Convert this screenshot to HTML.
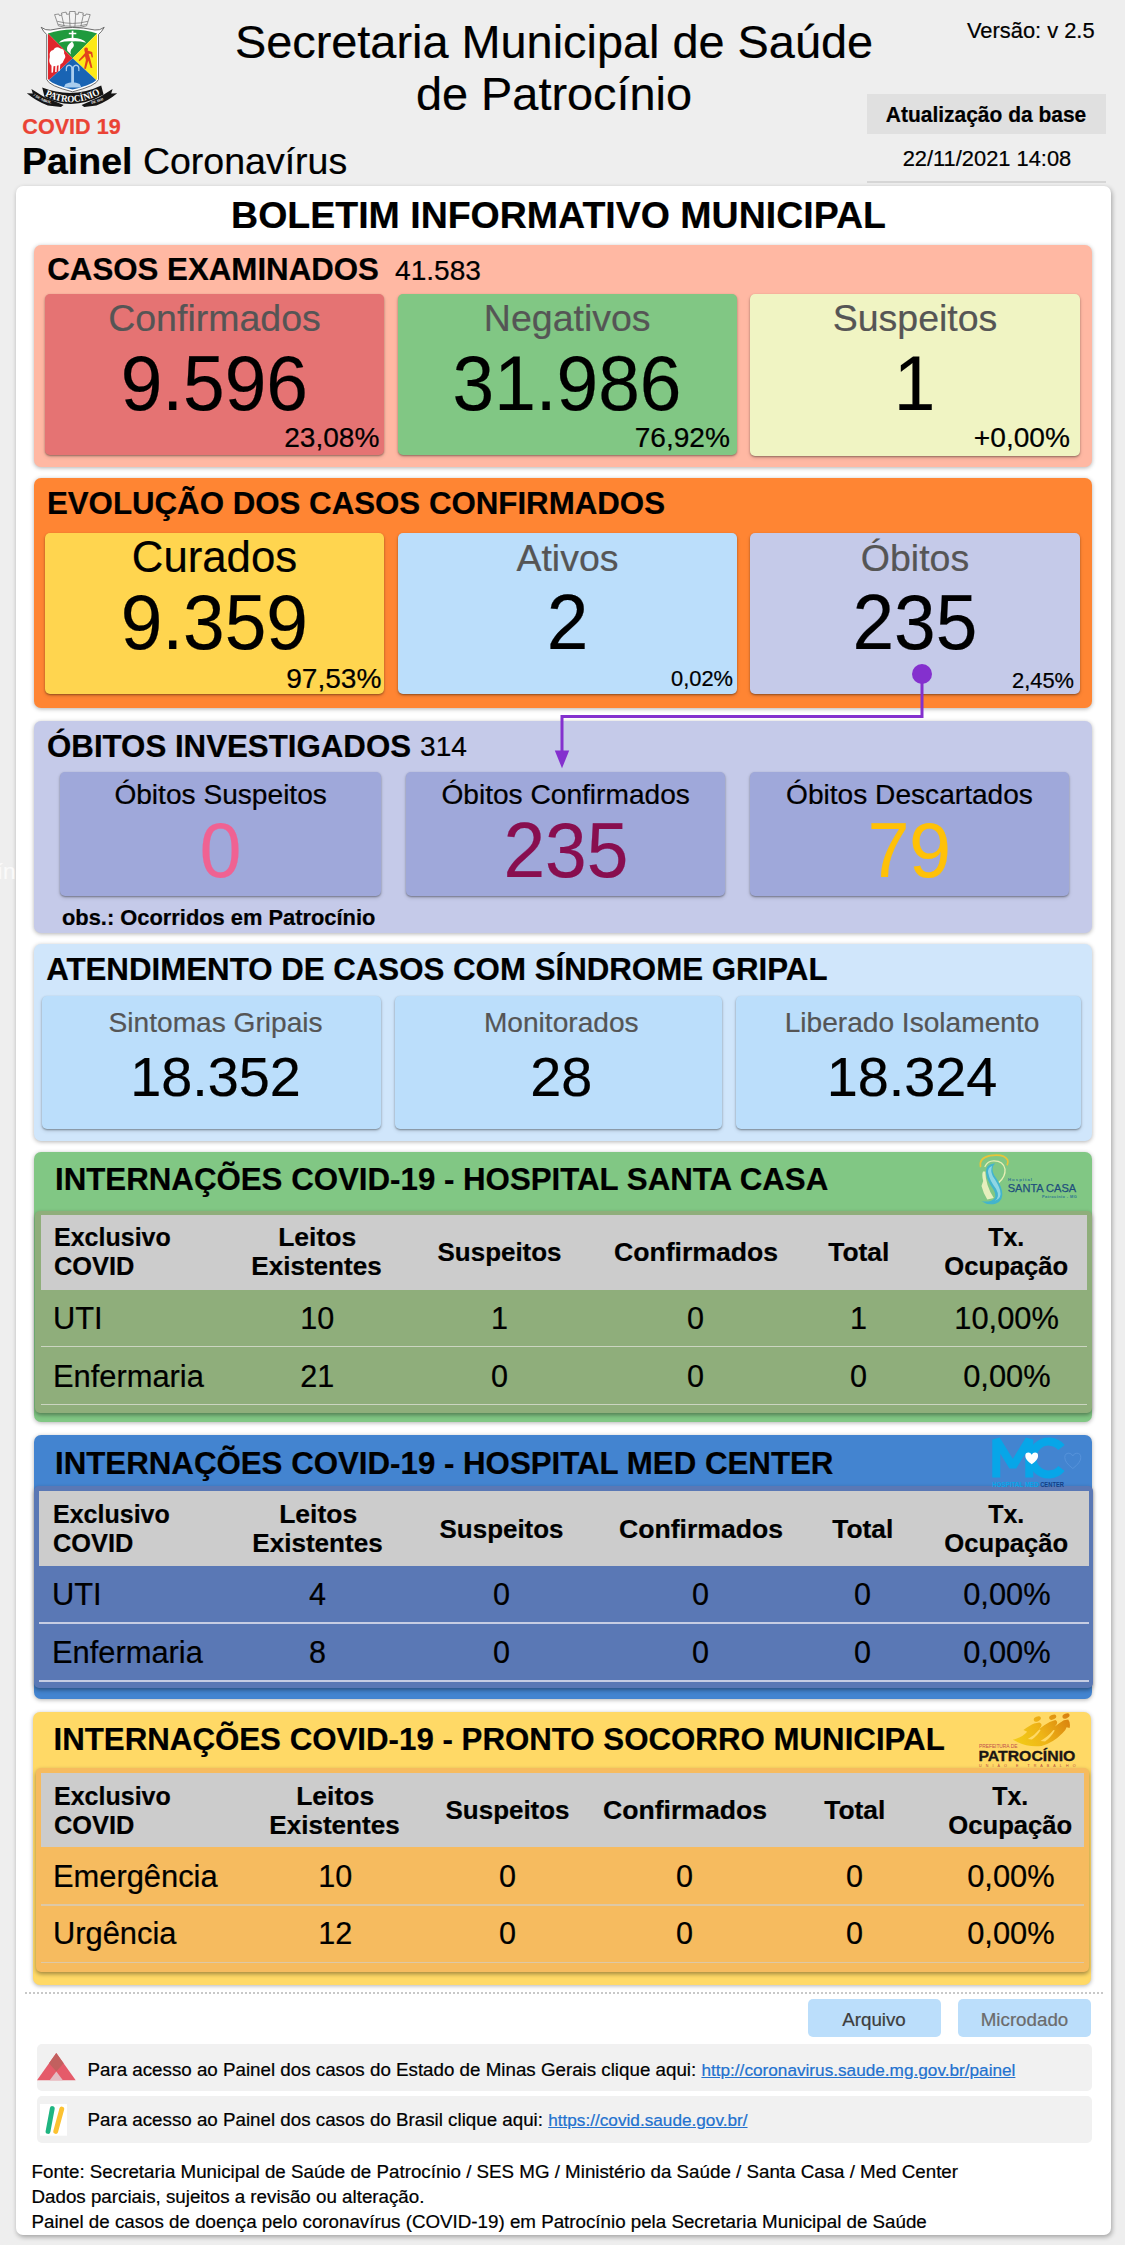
<!DOCTYPE html>
<html lang="pt-BR"><head><meta charset="utf-8"><title>Painel Coronavírus - Patrocínio</title>
<style>
html,body{margin:0;padding:0;background:#eeeeee}
body{width:1125px;height:2245px;background:#eeeeee;position:relative;overflow:hidden;font-family:"Liberation Sans",Arial,sans-serif}
.b{position:absolute;box-sizing:border-box}
.t{position:absolute;white-space:nowrap;-webkit-text-stroke:.22px currentColor}
.t a{color:#2372cf;text-decoration:underline}
.sh{box-shadow:0 1px 2px rgba(0,0,0,.36),0 2px 4px rgba(0,0,0,.12)}
.sh2{box-shadow:0 1px 4px rgba(0,0,0,.30)}
svg{position:absolute;overflow:visible}
</style></head>
<body>
<div class="b " style="left:16px;top:186px;width:1095.3px;height:2049px;background:#fff;border-radius:7px;box-shadow:1px 2px 5px rgba(0,0,0,.33);"></div>
<div class="t" style="top:13.93px;font-size:46.875px;line-height:56.25px;color:#000;left:214.79px;width:678.42px;text-align:center;">Secretaria Municipal de Saúde</div>
<div class="t" style="top:66.43px;font-size:46.875px;line-height:56.25px;color:#000;left:395.89px;width:316.22px;text-align:center;">de Patrocínio</div>
<div class="t" style="top:18.10px;font-size:21.875px;line-height:26.25px;color:#000;left:967.00px;">Versão: v 2.5</div>
<div class="b " style="left:867px;top:93.5px;width:239px;height:40.5px;background:#e0e0e0;border-radius:0px;"></div>
<div class="t" style="top:101.41px;font-size:22.6px;line-height:27.12px;color:#000;font-weight:700;left:858.48px;width:256.04px;text-align:center;transform:scaleX(0.9281);transform-origin:50% 50%;">Atualização da base</div>
<div class="t" style="top:146.10px;font-size:21.875px;line-height:26.25px;color:#000;left:882.66px;width:208.68px;text-align:center;">22/11/2021 14:08</div>
<div class="b " style="left:867px;top:181.4px;width:239px;height:1.799999999999983px;background:#d6d6d6;border-radius:0px;"></div>
<div class="t" style="top:114.36px;font-size:21.6px;line-height:25.92px;color:#ea4335;font-weight:700;left:22.30px;">COVID 19</div>
<div class="t" style="top:138.61px;font-size:37.5px;line-height:45.0px;color:#000;left:22.00px;"><b>Painel</b> Coronavírus</div>
<div class="t" style="top:858.10px;font-size:22.5px;line-height:27.0px;color:#fafafa;left:-43.16px;width:58.76px;text-align:right;">ín</div>
<div class="t" style="top:192.81px;font-size:37.5px;line-height:45.0px;color:#000;font-weight:700;left:211.09px;width:694.81px;text-align:center;">BOLETIM INFORMATIVO MUNICIPAL</div>
<div class="b sh2" style="left:34.4px;top:245px;width:1057.8999999999999px;height:222px;background:#ffb8a3;border-radius:7px;"></div>
<div class="t" style="top:251.22px;font-size:31.25px;line-height:37.5px;color:#000;font-weight:700;left:47.30px;">CASOS EXAMINADOS</div>
<div class="t" style="top:254.18px;font-size:28.125px;line-height:33.75px;color:#000;left:395.00px;">41.583</div>
<div class="b sh" style="left:45px;top:294px;width:339px;height:161px;background:#e57373;border-radius:5px;"></div>
<div class="t" style="top:295.51px;font-size:37.5px;line-height:45.0px;color:#555;left:88.20px;width:252.59px;text-align:center;">Confirmados</div>
<div class="t" style="top:337.47px;font-size:77.792px;line-height:93.35px;color:#000;left:97.16px;width:234.67px;text-align:center;transform:scaleX(0.9615);transform-origin:50% 50%;">9.596</div>
<div class="t" style="top:420.68px;font-size:28.125px;line-height:33.75px;color:#000;left:244.11px;width:135.39px;text-align:right;">23,08%</div>
<div class="b sh" style="left:398px;top:294px;width:338.5px;height:161px;background:#81c784;border-radius:5px;"></div>
<div class="t" style="top:295.51px;font-size:37.5px;line-height:45.0px;color:#555;left:463.87px;width:206.76px;text-align:center;">Negativos</div>
<div class="t" style="top:337.47px;font-size:77.792px;line-height:93.35px;color:#000;left:428.28px;width:277.94px;text-align:center;transform:scaleX(0.9615);transform-origin:50% 50%;">31.986</div>
<div class="t" style="top:420.68px;font-size:28.125px;line-height:33.75px;color:#000;left:594.61px;width:135.39px;text-align:right;">76,92%</div>
<div class="b sh" style="left:750px;top:294px;width:330px;height:162px;background:#f0f4c3;border-radius:5px;"></div>
<div class="t" style="top:295.51px;font-size:37.5px;line-height:45.0px;color:#555;left:812.66px;width:204.69px;text-align:center;">Suspeitos</div>
<div class="t" style="top:337.47px;font-size:77.792px;line-height:93.35px;color:#000;left:873.37px;width:83.27px;text-align:center;transform:scaleX(0.9615);transform-origin:50% 50%;">1</div>
<div class="t" style="top:420.68px;font-size:28.125px;line-height:33.75px;color:#000;left:933.83px;width:136.17px;text-align:right;">+0,00%</div>
<div class="b sh2" style="left:34.4px;top:478px;width:1057.8999999999999px;height:229.5px;background:#ff8533;border-radius:7px;"></div>
<div class="t" style="top:484.72px;font-size:31.25px;line-height:37.5px;color:#000;font-weight:700;left:46.90px;">EVOLUÇÃO DOS CASOS CONFIRMADOS</div>
<div class="b sh" style="left:45px;top:533px;width:339px;height:160.5px;background:#ffd54f;border-radius:5px;"></div>
<div class="t" style="top:531.29px;font-size:43.75px;line-height:52.5px;color:#000;left:111.81px;width:205.37px;text-align:center;">Curados</div>
<div class="t" style="top:576.47px;font-size:77.792px;line-height:93.35px;color:#000;left:97.16px;width:234.67px;text-align:center;transform:scaleX(0.9615);transform-origin:50% 50%;">9.359</div>
<div class="t" style="top:661.68px;font-size:28.125px;line-height:33.75px;color:#000;left:246.11px;width:135.39px;text-align:right;">97,53%</div>
<div class="b sh" style="left:398px;top:533px;width:339px;height:160.5px;background:#bbdefb;border-radius:5px;"></div>
<div class="t" style="top:535.51px;font-size:37.5px;line-height:45.0px;color:#555;left:496.44px;width:142.12px;text-align:center;">Ativos</div>
<div class="t" style="top:576.47px;font-size:77.792px;line-height:93.35px;color:#000;left:525.87px;width:83.27px;text-align:center;transform:scaleX(0.9615);transform-origin:50% 50%;">2</div>
<div class="t" style="top:665.60px;font-size:21.875px;line-height:26.25px;color:#000;left:630.97px;width:102.03px;text-align:right;">0,02%</div>
<div class="b sh" style="left:750px;top:533px;width:330px;height:160.5px;background:#c5cae9;border-radius:5px;"></div>
<div class="t" style="top:535.51px;font-size:37.5px;line-height:45.0px;color:#555;left:840.81px;width:148.38px;text-align:center;">Óbitos</div>
<div class="t" style="top:576.47px;font-size:77.792px;line-height:93.35px;color:#000;left:830.10px;width:169.80px;text-align:center;transform:scaleX(0.9615);transform-origin:50% 50%;">235</div>
<div class="t" style="top:667.70px;font-size:21.875px;line-height:26.25px;color:#000;left:971.97px;width:102.03px;text-align:right;">2,45%</div>
<div class="b sh2" style="left:34.4px;top:721px;width:1057.8999999999999px;height:212px;background:#c5cae9;border-radius:7px;"></div>
<div class="t" style="top:728.22px;font-size:31.25px;line-height:37.5px;color:#000;font-weight:700;left:47.00px;">ÓBITOS INVESTIGADOS</div>
<div class="t" style="top:730.18px;font-size:28.125px;line-height:33.75px;color:#000;left:420.00px;">314</div>
<div class="b sh" style="left:60px;top:772px;width:321.3px;height:124px;background:#9fa8da;border-radius:5px;"></div>
<div class="t" style="top:778.08px;font-size:28.125px;line-height:33.75px;color:#000;left:94.34px;width:252.62px;text-align:center;">Óbitos Suspeitos</div>
<div class="t" style="top:803.67px;font-size:77.792px;line-height:93.35px;color:#f06292;left:179.02px;width:83.27px;text-align:center;transform:scaleX(0.9615);transform-origin:50% 50%;">0</div>
<div class="b sh" style="left:406px;top:772px;width:319.29999999999995px;height:124px;background:#9fa8da;border-radius:5px;"></div>
<div class="t" style="top:778.08px;font-size:28.125px;line-height:33.75px;color:#000;left:421.38px;width:288.54px;text-align:center;">Óbitos Confirmados</div>
<div class="t" style="top:803.67px;font-size:77.792px;line-height:93.35px;color:#880e4f;left:480.75px;width:169.80px;text-align:center;transform:scaleX(0.9615);transform-origin:50% 50%;">235</div>
<div class="b sh" style="left:750px;top:772px;width:319px;height:124px;background:#9fa8da;border-radius:5px;"></div>
<div class="t" style="top:778.08px;font-size:28.125px;line-height:33.75px;color:#000;left:766.00px;width:286.99px;text-align:center;">Óbitos Descartados</div>
<div class="t" style="top:803.67px;font-size:77.792px;line-height:93.35px;color:#ffc107;left:846.23px;width:126.53px;text-align:center;transform:scaleX(0.9615);transform-origin:50% 50%;">79</div>
<div class="t" style="top:904.80px;font-size:21.875px;line-height:26.25px;color:#000;font-weight:700;left:62.00px;">obs.: Ocorridos em Patrocínio</div>
<svg style="left:0;top:0" width="1125" height="800" viewBox="0 0 1125 800"><g fill="none" stroke="#8430ce" stroke-width="3"><path d="M922 674V716.5H562V752"/></g><circle cx="922" cy="674" r="10" fill="#8430ce"/><path d="M554.8 750.5h14.400l-7.200 17.800z" fill="#8430ce"/></svg>
<div class="b sh2" style="left:34.4px;top:944px;width:1057.8999999999999px;height:197px;background:#d0e6fb;border-radius:7px;"></div>
<div class="t" style="top:950.52px;font-size:31.25px;line-height:37.5px;color:#000;font-weight:700;left:46.20px;">ATENDIMENTO DE CASOS COM SÍNDROME GRIPAL</div>
<div class="b sh" style="left:42px;top:995.5px;width:339px;height:133.0px;background:#bbdefb;border-radius:5px;"></div>
<div class="t" style="top:1006.28px;font-size:28.125px;line-height:33.75px;color:#555;left:88.53px;width:254.14px;text-align:center;">Sintomas Gripais</div>
<div class="t" style="top:1044.49px;font-size:55.8px;line-height:66.96px;color:#000;left:110.26px;width:210.67px;text-align:center;">18.352</div>
<div class="b sh" style="left:395px;top:995.5px;width:327px;height:133.0px;background:#bbdefb;border-radius:5px;"></div>
<div class="t" style="top:1006.28px;font-size:28.125px;line-height:33.75px;color:#555;left:463.91px;width:194.78px;text-align:center;">Monitorados</div>
<div class="t" style="top:1044.49px;font-size:55.8px;line-height:66.96px;color:#000;left:510.27px;width:102.07px;text-align:center;">28</div>
<div class="b sh" style="left:736px;top:995.5px;width:345px;height:133.0px;background:#bbdefb;border-radius:5px;"></div>
<div class="t" style="top:1006.28px;font-size:28.125px;line-height:33.75px;color:#555;left:764.57px;width:294.86px;text-align:center;">Liberado Isolamento</div>
<div class="t" style="top:1044.49px;font-size:55.8px;line-height:66.96px;color:#000;left:806.66px;width:210.67px;text-align:center;">18.324</div>
<div class="b sh2" style="left:34.4px;top:1152px;width:1057.6px;height:270px;background:#81c784;border-radius:7px;"></div>
<div class="t" style="top:1161.22px;font-size:31.25px;line-height:37.5px;color:#000;font-weight:700;left:55.00px;">INTERNAÇÕES COVID-19 - HOSPITAL SANTA CASA</div>
<div class="b " style="left:35px;top:1210.5px;width:1057px;height:202.20000000000005px;background:#8fae7b;border-radius:5px;box-shadow:0 2px 4px rgba(0,0,0,.38);"></div>
<div class="b " style="left:40.8px;top:1214.7px;width:1046.7px;height:75.29999999999995px;background:#cccccc;border-radius:0px;"></div>
<div class="b " style="left:40.8px;top:1345.95px;width:1046.7px;height:1.5px;background:#cbd5c1;border-radius:0px;"></div>
<div class="b " style="left:40.8px;top:1403.75px;width:1046.7px;height:1.5px;background:#cbd5c1;border-radius:0px;"></div>
<div class="t" style="top:1221.92px;font-size:26.6px;line-height:31.92px;color:#000;font-weight:700;left:53.50px;transform:scaleX(0.9404);transform-origin:0 50%;">Exclusivo</div>
<div class="t" style="top:1251.12px;font-size:26.6px;line-height:31.92px;color:#000;font-weight:700;left:53.50px;transform:scaleX(0.9532);transform-origin:0 50%;">COVID</div>
<div class="t" style="top:1221.92px;font-size:26.6px;line-height:31.92px;color:#000;font-weight:700;left:257.83px;width:118.33px;text-align:center;transform:scaleX(0.9957);transform-origin:50% 50%;">Leitos</div>
<div class="t" style="top:1251.12px;font-size:26.6px;line-height:31.92px;color:#000;font-weight:700;left:230.46px;width:173.07px;text-align:center;transform:scaleX(0.9807);transform-origin:50% 50%;">Existentes</div>
<div class="t" style="top:1236.62px;font-size:26.6px;line-height:31.92px;color:#000;font-weight:700;left:415.64px;width:167.12px;text-align:center;transform:scaleX(0.9754);transform-origin:50% 50%;">Suspeitos</div>
<div class="t" style="top:1236.62px;font-size:26.6px;line-height:31.92px;color:#000;font-weight:700;left:593.98px;width:204.05px;text-align:center;">Confirmados</div>
<div class="t" style="top:1236.62px;font-size:26.6px;line-height:31.92px;color:#000;font-weight:700;left:807.72px;width:101.57px;text-align:center;transform:scaleX(0.9908);transform-origin:50% 50%;">Total</div>
<div class="t" style="top:1221.92px;font-size:26.6px;line-height:31.92px;color:#000;font-weight:700;left:967.28px;width:78.43px;text-align:center;transform:scaleX(0.9367);transform-origin:50% 50%;">Tx.</div>
<div class="t" style="top:1251.12px;font-size:26.6px;line-height:31.92px;color:#000;font-weight:700;left:922.19px;width:168.61px;text-align:center;transform:scaleX(0.9641);transform-origin:50% 50%;">Ocupação</div>
<div class="t" style="top:1299.66px;font-size:31.0px;line-height:37.2px;color:#000;left:52.50px;transform:scaleX(0.9950);transform-origin:0 50%;">UTI</div>
<div class="t" style="top:1299.66px;font-size:31.0px;line-height:37.2px;color:#000;left:279.76px;width:74.48px;text-align:center;transform:scaleX(0.9850);transform-origin:50% 50%;">10</div>
<div class="t" style="top:1299.66px;font-size:31.0px;line-height:37.2px;color:#000;left:470.58px;width:57.24px;text-align:center;transform:scaleX(0.9850);transform-origin:50% 50%;">1</div>
<div class="t" style="top:1299.66px;font-size:31.0px;line-height:37.2px;color:#000;left:667.38px;width:57.24px;text-align:center;transform:scaleX(0.9850);transform-origin:50% 50%;">0</div>
<div class="t" style="top:1299.66px;font-size:31.0px;line-height:37.2px;color:#000;left:829.88px;width:57.24px;text-align:center;transform:scaleX(0.9850);transform-origin:50% 50%;">1</div>
<div class="t" style="top:1299.66px;font-size:31.0px;line-height:37.2px;color:#000;left:933.93px;width:145.14px;text-align:center;transform:scaleX(0.9950);transform-origin:50% 50%;">10,00%</div>
<div class="t" style="top:1357.66px;font-size:31.0px;line-height:37.2px;color:#000;left:52.50px;transform:scaleX(0.9950);transform-origin:0 50%;">Enfermaria</div>
<div class="t" style="top:1357.66px;font-size:31.0px;line-height:37.2px;color:#000;left:279.76px;width:74.48px;text-align:center;transform:scaleX(0.9850);transform-origin:50% 50%;">21</div>
<div class="t" style="top:1357.66px;font-size:31.0px;line-height:37.2px;color:#000;left:470.58px;width:57.24px;text-align:center;transform:scaleX(0.9850);transform-origin:50% 50%;">0</div>
<div class="t" style="top:1357.66px;font-size:31.0px;line-height:37.2px;color:#000;left:667.38px;width:57.24px;text-align:center;transform:scaleX(0.9850);transform-origin:50% 50%;">0</div>
<div class="t" style="top:1357.66px;font-size:31.0px;line-height:37.2px;color:#000;left:829.88px;width:57.24px;text-align:center;transform:scaleX(0.9850);transform-origin:50% 50%;">0</div>
<div class="t" style="top:1357.66px;font-size:31.0px;line-height:37.2px;color:#000;left:942.55px;width:127.90px;text-align:center;transform:scaleX(0.9950);transform-origin:50% 50%;">0,00%</div>
<div class="b sh2" style="left:34.4px;top:1435px;width:1057.6px;height:263.79999999999995px;background:#4384d0;border-radius:7px;"></div>
<div class="t" style="top:1444.72px;font-size:31.25px;line-height:37.5px;color:#000;font-weight:700;left:55.00px;">INTERNAÇÕES COVID-19 - HOSPITAL MED CENTER</div>
<div class="b " style="left:33.5px;top:1486px;width:1059.5px;height:202px;background:#5a78b5;border-radius:5px;box-shadow:0 2px 4px rgba(0,0,0,.38);"></div>
<div class="b " style="left:39px;top:1491px;width:1050.3px;height:74.5px;background:#cccccc;border-radius:0px;"></div>
<div class="b " style="left:39px;top:1622.45px;width:1050.3px;height:1.5px;background:#c6cde3;border-radius:0px;"></div>
<div class="b " style="left:39px;top:1680.15px;width:1050.3px;height:1.5px;background:#c6cde3;border-radius:0px;"></div>
<div class="t" style="top:1499.12px;font-size:26.6px;line-height:31.92px;color:#000;font-weight:700;left:52.50px;transform:scaleX(0.9404);transform-origin:0 50%;">Exclusivo</div>
<div class="t" style="top:1527.82px;font-size:26.6px;line-height:31.92px;color:#000;font-weight:700;left:52.50px;transform:scaleX(0.9532);transform-origin:0 50%;">COVID</div>
<div class="t" style="top:1499.12px;font-size:26.6px;line-height:31.92px;color:#000;font-weight:700;left:258.83px;width:118.33px;text-align:center;transform:scaleX(0.9957);transform-origin:50% 50%;">Leitos</div>
<div class="t" style="top:1527.82px;font-size:26.6px;line-height:31.92px;color:#000;font-weight:700;left:231.46px;width:173.07px;text-align:center;transform:scaleX(0.9807);transform-origin:50% 50%;">Existentes</div>
<div class="t" style="top:1513.62px;font-size:26.6px;line-height:31.92px;color:#000;font-weight:700;left:417.64px;width:167.12px;text-align:center;transform:scaleX(0.9754);transform-origin:50% 50%;">Suspeitos</div>
<div class="t" style="top:1513.62px;font-size:26.6px;line-height:31.92px;color:#000;font-weight:700;left:598.98px;width:204.05px;text-align:center;">Confirmados</div>
<div class="t" style="top:1513.62px;font-size:26.6px;line-height:31.92px;color:#000;font-weight:700;left:811.52px;width:101.57px;text-align:center;transform:scaleX(0.9908);transform-origin:50% 50%;">Total</div>
<div class="t" style="top:1499.12px;font-size:26.6px;line-height:31.92px;color:#000;font-weight:700;left:967.28px;width:78.43px;text-align:center;transform:scaleX(0.9367);transform-origin:50% 50%;">Tx.</div>
<div class="t" style="top:1527.82px;font-size:26.6px;line-height:31.92px;color:#000;font-weight:700;left:922.19px;width:168.61px;text-align:center;transform:scaleX(0.9641);transform-origin:50% 50%;">Ocupação</div>
<div class="t" style="top:1575.66px;font-size:31.0px;line-height:37.2px;color:#000;left:51.50px;transform:scaleX(0.9950);transform-origin:0 50%;">UTI</div>
<div class="t" style="top:1575.66px;font-size:31.0px;line-height:37.2px;color:#000;left:289.38px;width:57.24px;text-align:center;transform:scaleX(0.9850);transform-origin:50% 50%;">4</div>
<div class="t" style="top:1575.66px;font-size:31.0px;line-height:37.2px;color:#000;left:472.58px;width:57.24px;text-align:center;transform:scaleX(0.9850);transform-origin:50% 50%;">0</div>
<div class="t" style="top:1575.66px;font-size:31.0px;line-height:37.2px;color:#000;left:672.38px;width:57.24px;text-align:center;transform:scaleX(0.9850);transform-origin:50% 50%;">0</div>
<div class="t" style="top:1575.66px;font-size:31.0px;line-height:37.2px;color:#000;left:833.68px;width:57.24px;text-align:center;transform:scaleX(0.9850);transform-origin:50% 50%;">0</div>
<div class="t" style="top:1575.66px;font-size:31.0px;line-height:37.2px;color:#000;left:942.55px;width:127.90px;text-align:center;transform:scaleX(0.9950);transform-origin:50% 50%;">0,00%</div>
<div class="t" style="top:1633.66px;font-size:31.0px;line-height:37.2px;color:#000;left:51.50px;transform:scaleX(0.9950);transform-origin:0 50%;">Enfermaria</div>
<div class="t" style="top:1633.66px;font-size:31.0px;line-height:37.2px;color:#000;left:289.38px;width:57.24px;text-align:center;transform:scaleX(0.9850);transform-origin:50% 50%;">8</div>
<div class="t" style="top:1633.66px;font-size:31.0px;line-height:37.2px;color:#000;left:472.58px;width:57.24px;text-align:center;transform:scaleX(0.9850);transform-origin:50% 50%;">0</div>
<div class="t" style="top:1633.66px;font-size:31.0px;line-height:37.2px;color:#000;left:672.38px;width:57.24px;text-align:center;transform:scaleX(0.9850);transform-origin:50% 50%;">0</div>
<div class="t" style="top:1633.66px;font-size:31.0px;line-height:37.2px;color:#000;left:833.68px;width:57.24px;text-align:center;transform:scaleX(0.9850);transform-origin:50% 50%;">0</div>
<div class="t" style="top:1633.66px;font-size:31.0px;line-height:37.2px;color:#000;left:942.55px;width:127.90px;text-align:center;transform:scaleX(0.9950);transform-origin:50% 50%;">0,00%</div>
<div class="b sh2" style="left:32.7px;top:1712px;width:1058.3px;height:273px;background:#ffd966;border-radius:7px;"></div>
<div class="t" style="top:1721.22px;font-size:31.25px;line-height:37.5px;color:#000;font-weight:700;left:53.50px;">INTERNAÇÕES COVID-19 - PRONTO SOCORRO MUNICIPAL</div>
<div class="b " style="left:35.7px;top:1768.3px;width:1053.3px;height:204.20000000000005px;background:#f6bb5f;border-radius:5px;box-shadow:0 2px 4px rgba(0,0,0,.38);"></div>
<div class="b " style="left:40.8px;top:1773px;width:1043.0px;height:74.20000000000005px;background:#cccccc;border-radius:0px;"></div>
<div class="b " style="left:40.8px;top:1904.15px;width:1043.0px;height:1.5px;background:#ddc8a6;border-radius:0px;"></div>
<div class="b " style="left:40.8px;top:1961.95px;width:1043.0px;height:1.5px;background:#ddc8a6;border-radius:0px;"></div>
<div class="t" style="top:1780.92px;font-size:26.6px;line-height:31.92px;color:#000;font-weight:700;left:53.50px;transform:scaleX(0.9404);transform-origin:0 50%;">Exclusivo</div>
<div class="t" style="top:1809.62px;font-size:26.6px;line-height:31.92px;color:#000;font-weight:700;left:53.50px;transform:scaleX(0.9532);transform-origin:0 50%;">COVID</div>
<div class="t" style="top:1780.92px;font-size:26.6px;line-height:31.92px;color:#000;font-weight:700;left:275.63px;width:118.33px;text-align:center;transform:scaleX(0.9957);transform-origin:50% 50%;">Leitos</div>
<div class="t" style="top:1809.62px;font-size:26.6px;line-height:31.92px;color:#000;font-weight:700;left:248.26px;width:173.07px;text-align:center;transform:scaleX(0.9807);transform-origin:50% 50%;">Existentes</div>
<div class="t" style="top:1795.22px;font-size:26.6px;line-height:31.92px;color:#000;font-weight:700;left:424.44px;width:167.12px;text-align:center;transform:scaleX(0.9754);transform-origin:50% 50%;">Suspeitos</div>
<div class="t" style="top:1795.22px;font-size:26.6px;line-height:31.92px;color:#000;font-weight:700;left:582.98px;width:204.05px;text-align:center;">Confirmados</div>
<div class="t" style="top:1795.22px;font-size:26.6px;line-height:31.92px;color:#000;font-weight:700;left:803.72px;width:101.57px;text-align:center;transform:scaleX(0.9908);transform-origin:50% 50%;">Total</div>
<div class="t" style="top:1780.92px;font-size:26.6px;line-height:31.92px;color:#000;font-weight:700;left:971.28px;width:78.43px;text-align:center;transform:scaleX(0.9367);transform-origin:50% 50%;">Tx.</div>
<div class="t" style="top:1809.62px;font-size:26.6px;line-height:31.92px;color:#000;font-weight:700;left:926.19px;width:168.61px;text-align:center;transform:scaleX(0.9641);transform-origin:50% 50%;">Ocupação</div>
<div class="t" style="top:1857.66px;font-size:31.0px;line-height:37.2px;color:#000;left:52.50px;transform:scaleX(0.9950);transform-origin:0 50%;">Emergência</div>
<div class="t" style="top:1857.66px;font-size:31.0px;line-height:37.2px;color:#000;left:297.56px;width:74.48px;text-align:center;transform:scaleX(0.9850);transform-origin:50% 50%;">10</div>
<div class="t" style="top:1857.66px;font-size:31.0px;line-height:37.2px;color:#000;left:479.38px;width:57.24px;text-align:center;transform:scaleX(0.9850);transform-origin:50% 50%;">0</div>
<div class="t" style="top:1857.66px;font-size:31.0px;line-height:37.2px;color:#000;left:656.38px;width:57.24px;text-align:center;transform:scaleX(0.9850);transform-origin:50% 50%;">0</div>
<div class="t" style="top:1857.66px;font-size:31.0px;line-height:37.2px;color:#000;left:825.88px;width:57.24px;text-align:center;transform:scaleX(0.9850);transform-origin:50% 50%;">0</div>
<div class="t" style="top:1857.66px;font-size:31.0px;line-height:37.2px;color:#000;left:946.55px;width:127.90px;text-align:center;transform:scaleX(0.9950);transform-origin:50% 50%;">0,00%</div>
<div class="t" style="top:1915.46px;font-size:31.0px;line-height:37.2px;color:#000;left:52.50px;transform:scaleX(0.9950);transform-origin:0 50%;">Urgência</div>
<div class="t" style="top:1915.46px;font-size:31.0px;line-height:37.2px;color:#000;left:297.56px;width:74.48px;text-align:center;transform:scaleX(0.9850);transform-origin:50% 50%;">12</div>
<div class="t" style="top:1915.46px;font-size:31.0px;line-height:37.2px;color:#000;left:479.38px;width:57.24px;text-align:center;transform:scaleX(0.9850);transform-origin:50% 50%;">0</div>
<div class="t" style="top:1915.46px;font-size:31.0px;line-height:37.2px;color:#000;left:656.38px;width:57.24px;text-align:center;transform:scaleX(0.9850);transform-origin:50% 50%;">0</div>
<div class="t" style="top:1915.46px;font-size:31.0px;line-height:37.2px;color:#000;left:825.88px;width:57.24px;text-align:center;transform:scaleX(0.9850);transform-origin:50% 50%;">0</div>
<div class="t" style="top:1915.46px;font-size:31.0px;line-height:37.2px;color:#000;left:946.55px;width:127.90px;text-align:center;transform:scaleX(0.9950);transform-origin:50% 50%;">0,00%</div>
<div class="b" style="left:25px;top:1991.5px;width:1078px;height:0;border-top:2px dotted #c8c8c8"></div>
<div class="b " style="left:808px;top:1999px;width:132.5px;height:37.5px;background:#bbdefb;border-radius:5px;"></div>
<div class="t" style="top:2008.55px;font-size:18.75px;line-height:22.5px;color:#3d3d3d;left:822.21px;width:103.58px;text-align:center;">Arquivo</div>
<div class="b " style="left:958px;top:1999px;width:133px;height:37.5px;background:#bbdefb;border-radius:5px;"></div>
<div class="t" style="top:2008.55px;font-size:18.75px;line-height:22.5px;color:#6b6b6b;left:960.73px;width:127.55px;text-align:center;">Microdado</div>
<div class="b " style="left:37px;top:2044px;width:1055.2px;height:47px;background:#f1f1f1;border-radius:5px;"></div>
<div class="b " style="left:37px;top:2096px;width:1055.2px;height:47px;background:#f1f1f1;border-radius:5px;"></div>
<div class="t" style="top:2059.05px;font-size:18.75px;line-height:22.5px;color:#000;left:87.50px;">Para acesso ao Painel dos casos do Estado de Minas Gerais clique aqui: <a style="font-size:17.2px">http://coronavirus.saude.mg.gov.br/painel</a></div>
<div class="t" style="top:2109.05px;font-size:18.75px;line-height:22.5px;color:#000;left:87.50px;">Para acesso ao Painel dos casos do Brasil clique aqui: <a style="font-size:17.2px">https://covid.saude.gov.br/</a></div>
<div class="t" style="top:2160.55px;font-size:18.75px;line-height:22.5px;color:#000;left:31.50px;">Fonte: Secretaria Municipal de Saúde de Patrocínio / SES MG / Ministério da Saúde / Santa Casa / Med Center</div>
<div class="t" style="top:2185.55px;font-size:18.75px;line-height:22.5px;color:#000;left:31.50px;">Dados parciais, sujeitos a revisão ou alteração.</div>
<div class="t" style="top:2210.55px;font-size:18.75px;line-height:22.5px;color:#000;left:31.50px;">Painel de casos de doença pelo coronavírus (COVID-19) em Patrocínio pela Secretaria Municipal de Saúde</div>
<svg style="left:0;top:0" width="140" height="112" viewBox="0 0 140 112">
<defs><clipPath id="shc"><path d="M48 33.6Q72.5 25.6 97.2 33.6V78.5Q95 84 72.6 89.6Q50 84 48 78.5Z"/></clipPath>
<path id="rb1" d="M44.8 95.6Q72.6 109.8 102 93.2"/><path id="rb2" d="M33 95.5Q46 104.5 60 104.8"/><path id="rb3" d="M84.5 104.6Q98 104 111 95.6"/></defs>
<g fill="#f3f3f3" stroke="#6a6a6a" stroke-width=".7" stroke-linejoin="round">
<path d="M54.6 14.6l4.2-.6.6 1.6 2.6-.6-.5-2 4.6-.9.5 2.2 3-.3v-2.5h5.600v2.500l3 .3.5-2.200 4.600.9-.500 2 2.600.600.600-1.600 4.200.600-3.600 11.200q-13.900 4.300-28.200 0z"/>
<path d="M61.7 15.2l2.400 10.800M69.300 14.100l.800 12.600M75.700 14.100l-.800 12.600M83.300 15.200l-2.400 10.800M57.300 21.300q15.200 4.300 30.600 0M58.300 24.300q14.200 4.200 28.600 0" fill="none"/>
</g>
<path d="M41.200 27.300q4.300 3.300 9.300 2.700 22-5 44.400 0 5 .6 9.300-2.700-2.300 4.300-5.700 7.200V79.500Q96 86 72.600 91.800 49 86 46.700 79.500V34.500q-3.400-2.900-5.500-7.200z" fill="#fff" stroke="#4a4a4a" stroke-width=".8" stroke-linejoin="round"/>
<g clip-path="url(#shc)">
<path d="M40 25.500H105L72.600 58.300z" fill="#1f9a3d"/>
<path d="M48 33.600L72.600 58.300 48 81z" fill="#df262c"/>
<path d="M97.200 33.600L72.600 58.300 97.200 81z" fill="#fde916"/>
<path d="M48 81L72.600 58.300 97.200 81V92H48z" fill="#1964b4"/>
</g>
<g fill="#fff"><path d="M71.700 30.800h1.700v2h2.900v1.500h-2.900v4.200h-1.700v-4.200h-2.900v-1.500h2.900z"/>
<path d="M58.800 42.800q3.500-4.500 13.700-5 10.300.5 13.700 5-6.800-1.800-13.700-1.400-6.900-.4-13.700 1.400z"/>
<path d="M72 41.500q3.500 3.500.5 6.500-3 2.500-1.500 6.500l-3.800-3.800q-1.700-4.500 4.800-9.200z"/>
<path d="M49.800 57q-1.200-6 3.500-7 2.200-4.600 7.200-1.600 4.300.5 3.600 5 2.300 3 .3 5.700l-1.800 3.600-2.300 1.800-.6 6.500-1.400.2.300-6-1.700.5-.3 6.200-1.500.2.200-6-1.800.2-.5 6.300-1.500.2v-7q-3.300-2.800-1.700-8.800z"/></g>
<path d="M84.200 49.300a1.900 1.900 0 1 1 3.300 1.300l4.700 1.500.8 5.200-1.300.2-.9-3.600-2.200-.2 1.800 5.700 2 8.300-1.700.4-2.400-7.500-2.400 8.300-1.800-.4 1.800-8.600-.9-3.700-5.400 5-1-.9 6.400-7.200z" fill="#e2441c"/>
<g fill="#a9cdee"><path d="M71.200 66.500h2.800V83h-2.800z"/><path d="M65.500 84q7-3.500 14.200 0l1.700 3.500H63.800z"/><path d="M65.800 71.200q-1-6.500 3.400-6.600 2.400.2 3.400 3 1-2.800 3.400-3 4.400.100 3.400 6.600l-1.200-.1q.6-5-2.200-5.100-2.300.3-2.700 4.100h-1.400q-.4-3.800-2.700-4.100-2.800.100-2.200 5.100z"/></g>
<g fill="#151515"><path d="M42.200 87.600Q72.600 99.400 101.200 85.600l2.400 8.900Q72.600 111.800 44.600 97.200z"/>
<path d="M31.400 89l13.200 8.300 19 7.800-2.600 1.900-13.200-1.400Q36 101 26.800 93.300l6 .2z"/>
<path d="M112.600 89l-13.200 8.300-17.800 7.800 2.600 1.900 12.200-1.400Q108 101 117.200 93.300l-6 .2z"/></g>
<text font-family="'Liberation Serif',serif" font-weight="700" font-size="9.800" fill="#fff"><textPath href="#rb1" textLength="58" lengthAdjust="spacingAndGlyphs">PATROCÍNIO</textPath></text>
<text font-family="'Liberation Serif',serif" font-weight="700" font-size="3.600" fill="#fff"><textPath href="#rb2">7 DE ABRIL</textPath></text>
<text font-family="'Liberation Serif',serif" font-weight="700" font-size="3.600" fill="#fff"><textPath href="#rb3" startOffset="7">DE 1842</textPath></text>
</svg>
<svg style="left:970px;top:1150px" width="120" height="65" viewBox="970 1150 120 65">
<path d="M980.500 1166.500q-1.500-8.500 9.500-10.800 14-2.200 17.600 4.300.8 2.200-.3 4.600" fill="none" stroke="#e8c43a" stroke-width="1.700" stroke-linecap="round"/>
<path d="M985 1166.500q2.500-5.800 9-5.700 9.500.2 11 8.200.800 7.500-6.200 13.500" fill="none" stroke="#e9efb6" stroke-width="1.300" stroke-linecap="round"/>
<path d="M983 1171.500q-1.500 3 .200 9.500l-1.700 5q1.700 7 5.800 13.500l6.500-1.500q-8.200-12.500-8.500-26.500z" fill="#e6efbd"/>
<path d="M995.200 1163.200q-10.200.800-9.200 9.800 1.200 8.300 7.500 16.500 4.800 8.500-2.300 11.200-4.200 1.500-9.700.5 6.500 4.500 14 2.500 8.500-3 6.500-13-1.700-7.500-7.800-15.500-3.800-7.500 1-12z" fill="#43b4cd"/>
<path d="M992.200 1166q-4.800 1.500-4 7 1.300 7.300 7.800 15.700 4.500 8.200-1.200 12 7.500-2 5.300-10.500-1.700-6-7.300-14-2.800-5.700-.600-10.200z" fill="#8fd6e4"/>
<text x="1008" y="1181.300" font-size="4.300" font-weight="700" fill="#2d7591" textLength="24" lengthAdjust="spacing">Hospital</text>
<text x="1007.700" y="1191.900" font-size="11.200" fill="#1e4f7c" stroke="#1e4f7c" stroke-width=".25" textLength="68.500" lengthAdjust="spacingAndGlyphs">SANTA CASA</text>
<text x="1042" y="1197.600" font-size="3.900" font-weight="700" fill="#2d7591" textLength="34.700" lengthAdjust="spacing">Patrocínio - MG</text>
</svg>
<svg style="left:980px;top:1430px" width="120" height="62" viewBox="980 1430 120 62">
<path d="M996.300 1477.500V1439.500l16.500 27 16.500-27v38" fill="none" stroke="#07a6e8" stroke-width="8" stroke-linejoin="miter" stroke-miterlimit="1.500"/>
<path d="M1061.500 1447.500a16.500 16.500 0 1 0 0 21" fill="none" stroke="#07a6e8" stroke-width="8.200"/>
<path d="M1031.700 1464.300q-6.400-4.600-6.400-8.400 0-3.300 3.100-3.300 2.200 0 3.300 2.100 1.100-2.100 3.300-2.100 3.100 0 3.100 3.300 0 3.800-6.400 8.400z" fill="#fff"/>
<path d="M1072.800 1468.500q-8-6-8-11 0-4.300 4-4.300 2.800 0 4 2.800 1.200-2.800 4-2.800 4 0 4 4.300 0 5-8 11z" fill="none" stroke="#5a95dc" stroke-width=".8"/>
<text x="992.300" y="1486.500" font-size="6.300" font-weight="700" fill="#07a6e8" textLength="46.400" lengthAdjust="spacingAndGlyphs">HOSPITAL MED</text>
<text x="1040.200" y="1486.500" font-size="6.300" font-weight="700" fill="#123f86" textLength="23.800" lengthAdjust="spacingAndGlyphs">CENTER</text>
</svg>
<svg style="left:970px;top:1708px" width="125" height="64" viewBox="970 1708 125 64">
<defs><linearGradient id="pg" gradientUnits="userSpaceOnUse" x1="1018" y1="1746" x2="1068" y2="1716"><stop offset="0" stop-color="#f2cc18"/><stop offset=".45" stop-color="#eeb416"/><stop offset="1" stop-color="#d9820f"/></linearGradient></defs>
<g fill="url(#pg)">
<path d="M1012.8 1739.8Q1022.0 1737.5 1027.2 1731.7L1023.4 1730.0Q1030.1 1725.3 1034.1 1723.6L1039.3 1722.4Q1042.6 1723.6 1041.1 1726.5L1039.1 1729.0Q1045.1 1724.2 1049.7 1721.9L1055.3 1720.1Q1058.1 1721.3 1056.7 1724.2L1054.9 1726.5Q1060.1 1722.4 1063.8 1720.2L1068.2 1719.6Q1070.8 1723.0 1069.6 1727.9L1066.6 1727.2Q1065.9 1730.2 1062.4 1733.2Q1053.2 1742.7 1041.6 1745.9Q1027.8 1747.9 1012.8 1739.8Z"/>
<ellipse cx="1037.300" cy="1719" rx="3.700" ry="2.300" transform="rotate(-22 1037.300 1719)"/>
<ellipse cx="1052.700" cy="1717.200" rx="3.700" ry="2.300" transform="rotate(-22 1052.700 1717.200)"/>
<ellipse cx="1066" cy="1716" rx="3.700" ry="2.300" transform="rotate(-22 1066 1716)"/>
</g>
<g fill="#ffd966"><path d="M1027.8 1739.0Q1034.7 1735.2 1039.3 1729.4L1040.7 1730.0Q1037.0 1736.3 1031.8 1739.4Z"/><path d="M1040.5 1740.9Q1048.6 1736.3 1053.4 1730.0L1054.8 1730.6Q1050.9 1737.5 1045.1 1741.5Z"/></g>
<text x="979" y="1747.900" font-size="4.900" fill="#c0504d" textLength="38.400" lengthAdjust="spacing">PREFEITURA DE</text>
<text x="978.400" y="1761.300" font-size="14.600" font-weight="700" fill="#1c1614" stroke="#1c1614" stroke-width=".3" textLength="97" lengthAdjust="spacingAndGlyphs">PATROCÍNIO</text>
<text x="979" y="1767.200" font-size="3.700" fill="#b8463e" textLength="96.500" lengthAdjust="spacing">UNIÃO E TRABALHO</text>
</svg>
<svg style="left:30px;top:2040px" width="60" height="105" viewBox="30 2040 60 105">
<path d="M56.300 2053L75.700 2080.300H37z" fill="#e55b6a"/>
<path d="M56.300 2053l7.300 10.300-7.300 8.200-7.300-8.200z" fill="#c2605f"/>
<path d="M56.300 2071.500l6.600 8.800H49.700z" fill="#e3bcc4"/>
<rect x="40" y="2104" width="27" height="31.700" fill="#fff"/>
<path d="M52.300 2108.500L48 2131.500" stroke="#1fb581" stroke-width="4.800" stroke-linecap="round"/>
<path d="M61.800 2109L55.700 2131.500" stroke="#fcc231" stroke-width="4.800" stroke-linecap="round"/>
</svg>
</body></html>
